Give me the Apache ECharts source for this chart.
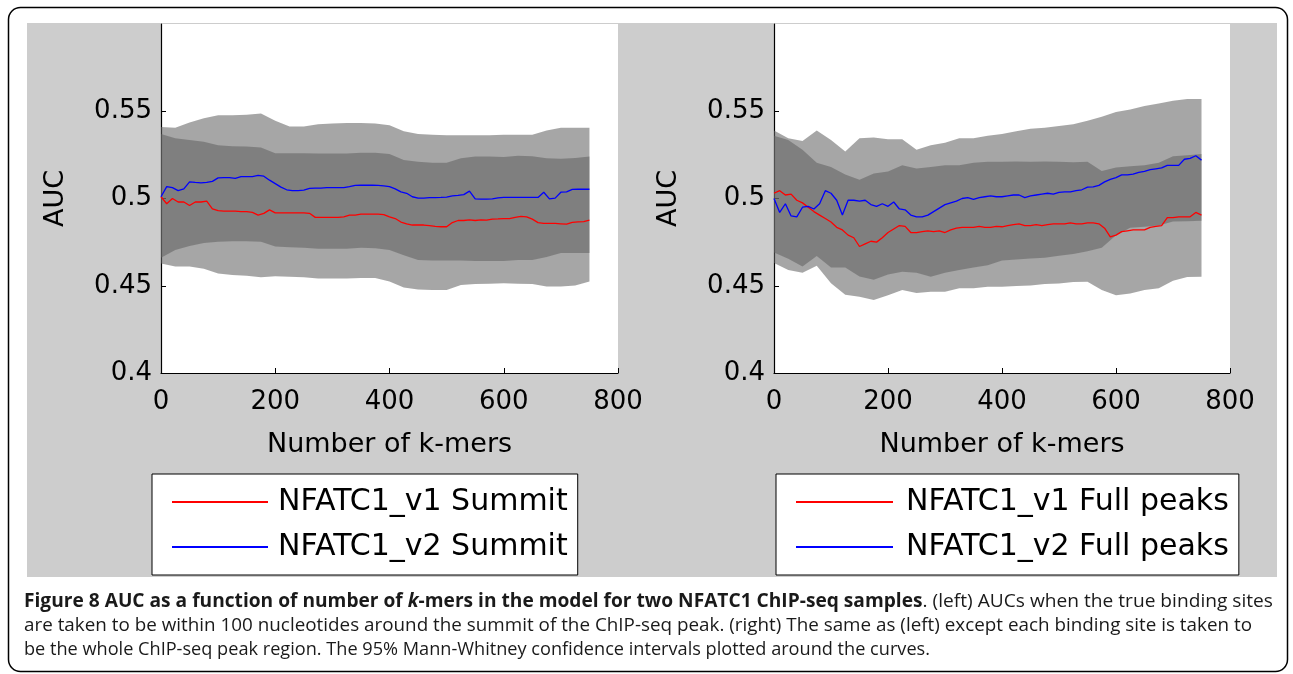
<!DOCTYPE html>
<html><head><meta charset="utf-8">
<script src="https://cdn.jsdelivr.net/npm/echarts@6/dist/echarts.min.js"></script>
<style>html,body{margin:0;padding:0;background:#fff;}#c{width:1293px;height:674px;}</style>
</head><body><div id="c"></div>
<script>
// ---------- data ----------
const kmerSteps = [0,10,20,30,40,50,60,70,80,90,100,110,120,130,140,150,160,170,180,190,200,210,220,230,240,250,260,270,280,290,300,310,320,330,340,350,360,370,380,390,400,410,420,430,440,450,460,470,480,490,500,510,520,530,540,550,560,570,580,590,600,610,620,630,640,650,660,670,680,690,700,710,720,730,740,750];
const bandSteps = [0,25,50,75,100,125,150,175,200,225,250,275,300,325,350,375,400,425,450,475,500,525,550,575,600,625,650,675,700,725,750];
const xTicks = [0,200,400,600,800];
const yTicks = [0.4,0.45,0.5,0.55,0.6];

const seriesNames = {
  leftV1: 'NFATC1_v1 Summit', leftV2: 'NFATC1_v2 Summit',
  rightV1: 'NFATC1_v1 Full peaks', rightV2: 'NFATC1_v2 Full peaks'
};

// left panel (Summit)
const leftV1 = [0.501,0.497,0.500,0.498,0.498,0.496,0.498,0.498,0.4985,0.494,0.493,0.4928,0.4928,0.4928,0.4925,0.4925,0.492,0.4905,0.4915,0.4935,0.4918,0.4918,0.4918,0.4918,0.4918,0.4918,0.4915,0.4892,0.4892,0.4892,0.4892,0.4892,0.4895,0.4905,0.4905,0.4911,0.4911,0.4911,0.4911,0.4908,0.4895,0.4885,0.4865,0.4855,0.4848,0.4848,0.4848,0.4845,0.484,0.4838,0.4838,0.4862,0.4874,0.4874,0.4877,0.4874,0.4877,0.4876,0.4882,0.4883,0.4885,0.4885,0.4892,0.4897,0.4895,0.4882,0.4862,0.4857,0.4857,0.4857,0.4855,0.4853,0.4863,0.4866,0.4868,0.4876];
const leftV2 = [0.501,0.5068,0.5062,0.5045,0.5055,0.5095,0.5092,0.509,0.5092,0.5098,0.5118,0.512,0.512,0.5115,0.5125,0.5125,0.5125,0.5132,0.5128,0.5105,0.5085,0.5065,0.505,0.5045,0.5045,0.5048,0.5058,0.506,0.506,0.5062,0.5062,0.5062,0.5062,0.5068,0.5075,0.5076,0.5076,0.5076,0.5075,0.5072,0.5068,0.5055,0.5038,0.503,0.501,0.5002,0.5002,0.5005,0.5005,0.5006,0.5008,0.5015,0.5018,0.5022,0.5042,0.4998,0.4996,0.4996,0.4998,0.5004,0.5006,0.5006,0.5006,0.5006,0.5006,0.5006,0.5006,0.5036,0.4998,0.5002,0.5036,0.5038,0.5052,0.5053,0.5053,0.5053];
const leftV1Upper = [0.537,0.5345,0.5335,0.5325,0.5305,0.530,0.5298,0.5292,0.526,0.526,0.526,0.5258,0.5258,0.5258,0.5262,0.5262,0.5255,0.522,0.521,0.5205,0.5205,0.523,0.524,0.524,0.5238,0.5245,0.5242,0.523,0.5228,0.5232,0.524];
const leftV1Lower = [0.4628,0.461,0.461,0.4598,0.457,0.4562,0.4558,0.4548,0.4555,0.4552,0.4548,0.4542,0.4542,0.4542,0.4545,0.4545,0.4525,0.449,0.4478,0.4475,0.4475,0.4505,0.451,0.4512,0.4515,0.4512,0.451,0.4495,0.4495,0.4502,0.4525];
const leftV2Upper = [0.541,0.5405,0.5435,0.546,0.5477,0.5477,0.548,0.5487,0.5445,0.5412,0.5412,0.5425,0.543,0.5432,0.5432,0.543,0.542,0.5385,0.537,0.5365,0.5363,0.5363,0.5363,0.5363,0.5365,0.5365,0.5365,0.539,0.5405,0.5405,0.5405];
const leftV2Lower = [0.466,0.4705,0.4728,0.4745,0.4752,0.4755,0.4755,0.4752,0.4725,0.472,0.4718,0.4712,0.4712,0.4712,0.4718,0.4715,0.4705,0.4675,0.4648,0.4645,0.4645,0.4645,0.4642,0.4642,0.4642,0.4648,0.4648,0.4665,0.4688,0.4688,0.4688];

// right panel (Full peaks)
const rightV1 = [0.503,0.5045,0.502,0.5025,0.499,0.4975,0.495,0.4925,0.4905,0.4885,0.4865,0.4835,0.482,0.479,0.4775,0.4725,0.474,0.4755,0.475,0.4775,0.4805,0.4825,0.4845,0.484,0.4805,0.4805,0.481,0.4815,0.481,0.4815,0.4805,0.482,0.483,0.4835,0.4835,0.4835,0.484,0.4835,0.4835,0.484,0.4838,0.4845,0.485,0.4855,0.4845,0.4845,0.485,0.4845,0.485,0.4855,0.4855,0.4855,0.486,0.4855,0.4855,0.486,0.486,0.4855,0.483,0.478,0.479,0.481,0.4815,0.482,0.482,0.482,0.4835,0.484,0.4845,0.489,0.489,0.4895,0.4895,0.4895,0.492,0.4905];
const rightV2 = [0.500,0.492,0.497,0.490,0.4895,0.495,0.4955,0.494,0.497,0.5045,0.503,0.499,0.4905,0.499,0.499,0.4985,0.499,0.4965,0.4955,0.497,0.4955,0.498,0.494,0.4935,0.4905,0.4895,0.4895,0.4905,0.4925,0.4945,0.4965,0.4975,0.4985,0.500,0.5005,0.4995,0.5005,0.501,0.5015,0.501,0.501,0.5015,0.502,0.502,0.5005,0.5015,0.502,0.5025,0.503,0.5025,0.5035,0.5038,0.5038,0.5045,0.505,0.5065,0.5067,0.5075,0.5095,0.511,0.512,0.5135,0.5135,0.514,0.515,0.5155,0.5165,0.517,0.5175,0.519,0.519,0.519,0.5225,0.523,0.5245,0.522];
const rightV1Upper = [0.536,0.5335,0.528,0.5205,0.518,0.5138,0.5108,0.5143,0.5155,0.519,0.5172,0.518,0.519,0.519,0.5205,0.521,0.521,0.5212,0.521,0.5212,0.521,0.5208,0.521,0.5158,0.5178,0.5185,0.519,0.5205,0.5242,0.5248,0.5255];
const rightV1Lower = [0.463,0.459,0.4575,0.4615,0.4515,0.4448,0.4437,0.4418,0.4446,0.4475,0.4458,0.4465,0.4466,0.4485,0.4486,0.4494,0.4494,0.4498,0.4502,0.451,0.4513,0.4522,0.4523,0.4475,0.4445,0.4456,0.4475,0.4485,0.4528,0.455,0.4551];
const rightV2Upper = [0.539,0.5345,0.533,0.539,0.5335,0.527,0.5345,0.535,0.534,0.534,0.528,0.5305,0.532,0.5345,0.5345,0.536,0.537,0.5385,0.540,0.5405,0.5415,0.5425,0.5445,0.5468,0.5495,0.551,0.553,0.5545,0.556,0.557,0.557];
const rightV2Lower = [0.469,0.4655,0.461,0.467,0.4605,0.4605,0.4553,0.4535,0.4565,0.458,0.4575,0.4552,0.4575,0.459,0.4605,0.4618,0.4645,0.465,0.4656,0.466,0.4672,0.4682,0.4698,0.4718,0.479,0.4832,0.4838,0.4845,0.4868,0.487,0.4872];

const captionLine1 = ['Figure 8 AUC as a function of number of ', 'k', '-mers in the model for two NFATC1 ChIP-seq samples', '. (left) AUCs when the true binding sites'];
const captionLine2 = 'are taken to be within 100 nucleotides around the summit of the ChIP-seq peak. (right) The same as (left) except each binding site is taken to';
const captionLine3 = 'be the whole ChIP-seq peak region. The 95% Mann-Whitney confidence intervals plotted around the curves.';

// ---------- chart ----------
const AX_FONT = '"DejaVu Sans", "Liberation Sans", sans-serif';
const CAP_FONT = '"Open Sans", "Noto Sans", sans-serif';
const BAND_FILL = 'rgba(99,99,99,0.57)';

function pairs(xs, ys) { return xs.map((x, i) => [x, ys[i]]); }

function bandSeries(gi, upper, lower) {
  return {
    type: 'custom', xAxisIndex: gi, yAxisIndex: gi, silent: true, z: 1,
    data: bandSteps.map((x, i) => [x, lower[i], upper[i]]),
    encode: { x: 0, y: [1, 2] },
    renderItem: function (params, api) {
      if (params.dataIndex !== 0) return null;
      const pts = [];
      for (let i = 0; i < bandSteps.length; i++) pts.push(api.coord([bandSteps[i], upper[i]]));
      for (let i = bandSteps.length - 1; i >= 0; i--) pts.push(api.coord([bandSteps[i], lower[i]]));
      return { type: 'polygon', shape: { points: pts }, style: { fill: BAND_FILL } };
    }
  };
}
function lineSeries(gi, name, ys, color) {
  return {
    type: 'line', name: name, xAxisIndex: gi, yAxisIndex: gi, z: 3,
    data: pairs(kmerSteps, ys), showSymbol: false, symbol: 'none',
    color: color, itemStyle: { color: color },
    lineStyle: { color: color, width: 1.3 }
  };
}
function xAxisCfg(gi) {
  return {
    type: 'value', gridIndex: gi, min: xTicks[0], max: xTicks[xTicks.length - 1], interval: xTicks[1] - xTicks[0],
    name: 'Number of k-mers', nameLocation: 'middle', nameGap: 58,
    nameTextStyle: { fontFamily: AX_FONT, fontSize: 27, color: '#000' },
    axisLine: { show: true, lineStyle: { color: '#000', width: 1.2 } },
    axisTick: { show: true, inside: true, length: 5, lineStyle: { color: '#000' } },
    axisLabel: { fontFamily: AX_FONT, fontSize: 26, color: '#000', margin: 16 },
    splitLine: { show: false }
  };
}
function yAxisCfg(gi) {
  return {
    type: 'value', gridIndex: gi, min: yTicks[0], max: yTicks[yTicks.length - 1], interval: 0.05,
    name: 'AUC', nameLocation: 'middle', nameGap: 92,
    nameTextStyle: { fontFamily: AX_FONT, fontSize: 27, color: '#000' },
    axisLine: { show: true, onZero: false, lineStyle: { color: '#000', width: 1.2 } },
    axisTick: { show: true, inside: true, length: 5, lineStyle: { color: '#000' } },
    axisLabel: { fontFamily: AX_FONT, fontSize: 26, color: '#000', margin: 9, showMaxLabel: false,
      formatter: v => String(Math.round(v * 100) / 100) },
    splitLine: { show: false }
  };
}
function legendCfg(left, names, itemW, textPad) {
  return {
    orient: 'vertical', left: left, top: 474, data: names, selectedMode: false,
    backgroundColor: '#fff', borderColor: '#000', borderWidth: 1, borderRadius: 0,
    padding: [11, 10, 11, 20], itemGap: 11, itemWidth: itemW, itemHeight: 2, icon: 'rect',
    textStyle: { fontFamily: AX_FONT, fontSize: 30, color: '#000', lineHeight: 34, padding: [0, 0, 0, textPad] }
  };
}

// caption scaling (fit measured widths)
const mctx = document.createElement('canvas').getContext('2d');
function tw(font, t) { mctx.font = font; return mctx.measureText(t).width; }
const CS = 19;
const nat1 = tw('bold ' + CS + 'px ' + CAP_FONT, captionLine1[0]) + tw('italic bold ' + CS + 'px ' + CAP_FONT, captionLine1[1]) +
             tw('bold ' + CS + 'px ' + CAP_FONT, captionLine1[2]) + tw(CS + 'px ' + CAP_FONT, captionLine1[3]);
const nat2 = tw(CS + 'px ' + CAP_FONT, captionLine2);
const nat3 = tw(CS + 'px ' + CAP_FONT, captionLine3);
const CAP_X = 24;
const richCap = {
  b: { fontFamily: CAP_FONT, fontSize: CS, fontWeight: 'bold', fill: '#1a1a1a', color: '#1a1a1a' },
  bi: { fontFamily: CAP_FONT, fontSize: CS, fontWeight: 'bold', fontStyle: 'italic', fill: '#1a1a1a', color: '#1a1a1a' },
  n: { fontFamily: CAP_FONT, fontSize: CS, fill: '#1a1a1a', color: '#1a1a1a' }
};

const chart = echarts.init(document.getElementById('c'), null, { renderer: 'canvas' });
chart.setOption({
  animation: false,
  backgroundColor: '#fff',
  graphic: [
    { type: 'rect', z: -100, silent: true, shape: { x: 27, y: 23, width: 1250, height: 554 }, style: { fill: '#cdcdcd' } },
    { type: 'rect', z: 100, silent: true, shape: { x: 8.5, y: 7.5, width: 1279, height: 664, r: 12 }, style: { fill: 'none', stroke: '#000', lineWidth: 1.5 } },
    { type: 'text', z: 100, silent: true, x: CAP_X, y: 602, scaleX: (1273 - CAP_X) / nat1,
      style: { text: '{b|' + captionLine1[0] + '}{bi|' + captionLine1[1] + '}{b|' + captionLine1[2] + '}{n|' + captionLine1[3] + '}', rich: richCap, verticalAlign: 'middle', align: 'left' } },
    { type: 'text', z: 100, silent: true, x: CAP_X, y: 626, scaleX: (1252 - CAP_X) / nat2,
      style: { text: captionLine2, fontFamily: CAP_FONT, fontSize: CS, fill: '#1a1a1a', verticalAlign: 'middle', align: 'left' } },
    { type: 'text', z: 100, silent: true, x: CAP_X, y: 650, scaleX: (930 - CAP_X) / nat3,
      style: { text: captionLine3, fontFamily: CAP_FONT, fontSize: CS, fill: '#1a1a1a', verticalAlign: 'middle', align: 'left' } }
  ],
  grid: [
    { left: 161, top: 24, width: 457, height: 349, show: true, backgroundColor: '#fff', borderWidth: 0 },
    { left: 774, top: 24, width: 456, height: 349, show: true, backgroundColor: '#fff', borderWidth: 0 }
  ],
  xAxis: [xAxisCfg(0), xAxisCfg(1)],
  yAxis: [yAxisCfg(0), yAxisCfg(1)],
  legend: [
    legendCfg(152, [seriesNames.leftV1, seriesNames.leftV2], 96, 5),
    legendCfg(776, [seriesNames.rightV1, seriesNames.rightV2], 97, 8)
  ],
  series: [
    bandSeries(0, leftV1Upper, leftV1Lower),
    bandSeries(0, leftV2Upper, leftV2Lower),
    lineSeries(0, seriesNames.leftV1, leftV1, '#ff0000'),
    lineSeries(0, seriesNames.leftV2, leftV2, '#0000ff'),
    bandSeries(1, rightV1Upper, rightV1Lower),
    bandSeries(1, rightV2Upper, rightV2Lower),
    lineSeries(1, seriesNames.rightV1, rightV1, '#ff0000'),
    lineSeries(1, seriesNames.rightV2, rightV2, '#0000ff')
  ]
});
</script>
</body></html>
